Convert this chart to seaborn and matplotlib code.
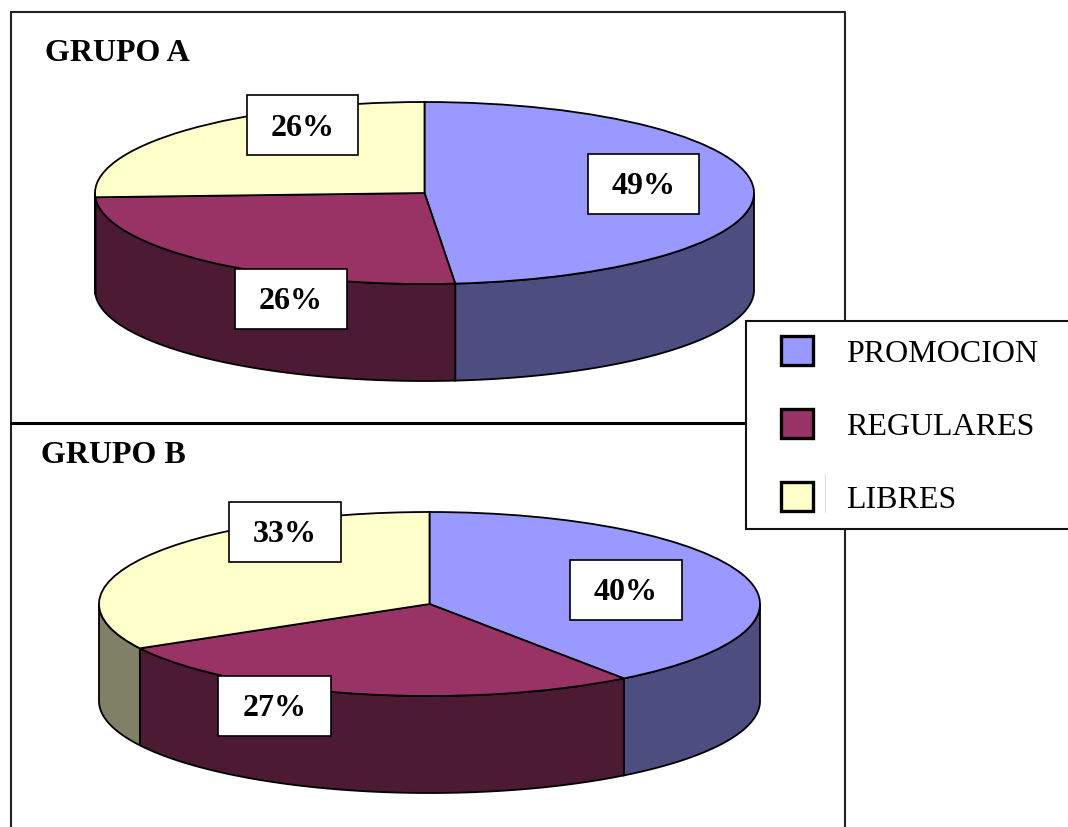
import numpy as np
import matplotlib
matplotlib.use("Agg")
import matplotlib.pyplot as plt
from matplotlib.patches import Patch, Rectangle
import seaborn as sns

categories = ["PROMOCION", "REGULARES", "LIBRES"]
grupo_a = [49, 26, 26]
grupo_b = [40, 27, 33]
top_colors = ["#9999FF", "#993366", "#FFFFCC"]
side_colors = ["#4D4D80", "#4D1A33", "#808066"]

sns.set_theme(style="white")
plt.rcParams["font.family"] = ["Liberation Serif", "DejaVu Serif"]

W, H = 1068, 828
FONT = 23
fig = plt.figure(figsize=(W / 100, H / 100), dpi=100, facecolor="white")

# Full-figure layers addressed in pixels, y growing downwards
def pixel_layer(zorder):
    ax = fig.add_axes([0, 0, 1, 1], zorder=zorder)
    ax.set_xlim(0, W)
    ax.set_ylim(H, 0)
    ax.axis("off")
    ax.patch.set_alpha(0)
    return ax

back = pixel_layer(0)
front = pixel_layer(3)

# Panel frames
back.plot([11, 845, 845], [13, 13, 424], color="#222222", lw=1.5)
back.plot([11, 11], [13, 840], color="#222222", lw=1.5, clip_on=False)
back.plot([845, 845], [424, 840], color="#222222", lw=1.5)
back.plot([11, 845], [424, 424], color="black", lw=2.2)


def draw_pie(values, cx, cy, rx, ry, depth):
    """Top face from ax.pie squashed to an ellipse, with the rim hanging below."""
    left, right = cx - rx, cx + rx
    top, bottom = cy - ry, cy + ry + depth
    ax = fig.add_axes([left / W, 1 - bottom / H, (right - left) / W, (bottom - top) / H],
                      zorder=2)
    ax.patch.set_alpha(0)
    drop = depth / ry

    # Rim: slices measured clockwise from twelve o'clock; only 90-270 deg faces the viewer
    edges = np.concatenate([[0], np.cumsum(values)]) / np.sum(values) * 360
    for start, stop, shade in zip(edges[:-1], edges[1:], side_colors):
        a, b = max(start, 90), min(stop, 270)
        if a >= b:
            continue
        t = np.radians(np.linspace(a, b, 160))
        x, y = np.sin(t), np.cos(t)
        ax.fill(np.r_[x, x[::-1]], np.r_[y, y[::-1] - drop],
                facecolor=shade, edgecolor="black", lw=1.3, clip_on=False, zorder=1)

    wedges, _ = ax.pie(values, colors=top_colors, startangle=90, counterclock=False,
                       radius=1, wedgeprops=dict(edgecolor="black", linewidth=1.3))
    for w in wedges:
        w.set_clip_on(False)
        w.set_zorder(2)
    ax.set_aspect("auto")
    ax.set_xlim(-1, 1)
    ax.set_ylim(-1 - drop, 1)
    ax.axis("off")
    return ax


draw_pie(grupo_a, 424.5, 194, 329.5, 91, 97)
draw_pie(grupo_b, 429.5, 605, 330.5, 92, 97)

# Value boxes: left, top, right, bottom in pixels
def value_box(value, x0, y0, x1, y1):
    front.add_patch(Rectangle((x0, y0), x1 - x0, y1 - y0, facecolor="white",
                              edgecolor="black", lw=1.2))
    front.text((x0 + x1) / 2, (y0 + y1) / 2 + 2, f"{value}%", ha="center", va="center",
               fontsize=FONT, fontweight="bold", color="black")


value_box(grupo_a[0], 588, 155, 699, 215)
value_box(grupo_a[1], 235, 270, 347, 330)
value_box(grupo_a[2], 247, 96, 358, 156)
value_box(grupo_b[0], 570, 561, 682, 621)
value_box(grupo_b[1], 218, 677, 331, 737)
value_box(grupo_b[2], 229, 503, 341, 563)

front.text(45, 53.5, "GRUPO A", ha="left", va="center", fontsize=FONT, fontweight="bold",
           color="black")
front.text(41, 456, "GRUPO B", ha="left", va="center", fontsize=FONT, fontweight="bold",
           color="black")

# Legend panel overlapping both frames
front.add_patch(Rectangle((746, 322), 340, 208, facecolor="white", edgecolor="#111111",
                          lw=1.5, zorder=5))
front.plot([824.5, 824.5], [475, 513], color="#dddddd", lw=0.8, zorder=6)
handles = [Patch(facecolor=c, edgecolor="black", lw=2.4, label=n)
           for c, n in zip(top_colors, categories)]
leg = front.legend(handles=handles, loc="upper left", bbox_to_anchor=(781, 337),
                   bbox_transform=front.transData, frameon=False, fontsize=FONT,
                   labelcolor="black", handlelength=1.0, handleheight=1.0,
                   handletextpad=1.03, labelspacing=1.28, borderpad=0, borderaxespad=0)
leg.set_zorder(7)

fig.savefig("out.png", dpi=100, facecolor="white")
